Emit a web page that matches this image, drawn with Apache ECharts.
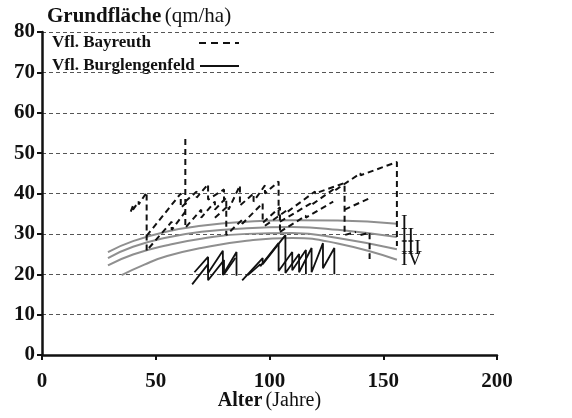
<!DOCTYPE html>
<html><head><meta charset="utf-8">
<script src="https://cdn.jsdelivr.net/npm/echarts@6/dist/echarts.min.js"></script>
<style>html,body{margin:0;padding:0;background:#fff}#c{width:572px;height:418px}</style>
</head><body><div id="c"></div>
<script>
// ---- axis ticks ----
const xTicks = [0, 50, 100, 150, 200];
const yTicks = [0, 10, 20, 30, 40, 50, 60, 70, 80];

// ---- yield-table site classes (age, basal area) ----
const classNames = ['I', 'II', 'III', 'IV'];
const classI   = [[29,25.5],[40,28.2],[55,30.6],[70,32.0],[90,33.0],[110,33.4],[130,33.3],[156,32.5]];
const classII  = [[29,24.0],[40,26.8],[55,29.1],[70,30.5],[90,31.4],[110,31.7],[130,31.0],[156,29.2]];
const classIII = [[29,22.2],[40,24.9],[55,27.2],[70,28.8],[90,30.0],[110,30.2],[130,29.0],[156,26.2]];
const classIV  = [[35,19.8],[45,22.4],[55,24.5],[70,26.5],[90,28.3],[110,29.0],[130,27.6],[156,23.6]];

// ---- Vfl. Bayreuth (dashed) ----
const bay1  = [[39,35.5],[40,37],[40,36],[42.5,38],[42.5,37.3],[46,40.3],[46,25]];
const bay2  = [[46,29.5],[61,40],[61,36.5],[64,38]];
const bay3  = [[47,26.5],[57,33],[57,31],[63,35.5]];
const bay4  = [[63,53.5],[63,31.5],[70,36],[70,34],[76,38],[76,36],[81,39],[81,29.7],[88,33.5],[88,32.5],[97,37.6],[97,32.7],[104.6,36.6],[104.6,30]];
const bay5  = [[63,38],[68,40.5],[68,39],[73,42.3],[73,38.5],[80,41],[80,38]];
const bay6  = [[76,34],[82,37],[82,36],[87,42],[87,37],[93,40],[93,38],[98,42],[98,40],[104,43],[104,33.5]];
const bay7  = [[104.6,33],[118,37.5],[118,37],[128,41],[128,40.5],[140,45],[140,44.5],[156,47.8],[156,27]];
const bay8  = [[98,32],[108,36],[108,35.5],[120,40.5],[120,40],[133,42.6],[133,29.7],[138,30.5]];
const bay9  = [[133,36],[145,39.1]];
const bay10 = [[140,29.7],[144,30.3],[144,23.8]];
const bay11 = [[104.6,30.5],[116,34.5],[116,34],[128,38]];
const bayreuth = [bay1, bay2, bay3, bay4, bay5, bay6, bay7, bay8, bay9, bay10, bay11];

// ---- Vfl. Burglengenfeld (solid) ----
const bg1 = [[66,17.5],[73,22.5],[73,20.3],[79.5,25.8],[79.5,19.8],[85.5,25.5],[85.5,19.6]];
const bg2 = [[67,20.5],[73,24.3],[73,18.5],[80,23.5],[80,20],[85,24]];
const bg3 = [[88,18.5],[97,24],[97,22.5],[107,29.7],[107,20.3],[113,25],[113,20.5],[118.5,26.5],[118.5,20.5],[123.5,27.7],[123.5,21.5],[128.5,26.5],[128.5,20]];
const bg4 = [[90.5,19.8],[96,22.5],[96,22],[104,27.7],[104,20.8],[110,25.5],[110,21],[116,26],[116,20]];
const burglengenfeld = [bg1, bg2, bg3, bg4];

const serif = 'Liberation Serif';
const series = [];
[classI, classII, classIII, classIV].forEach((d, i) => {
  series.push({
    name: classNames[i], type: 'line', data: d, smooth: true, symbol: 'none', z: 2,
    lineStyle: { color: '#8f8f8f', width: 2 },
    endLabel: { show: true, formatter: classNames[i], fontFamily: serif, fontSize: 20, color: '#111', distance: 4 }
  });
});
bayreuth.forEach(d => series.push({
  type: 'line', data: d, symbol: 'none', z: 3,
  lineStyle: { color: '#111', width: 2, type: [6, 4] }
}));
burglengenfeld.forEach(d => series.push({
  type: 'line', data: d, symbol: 'none', z: 3,
  lineStyle: { color: '#111', width: 1.8 }
}));

const chart = echarts.init(document.getElementById('c'), null, { renderer: 'canvas' });
chart.setOption({
  animation: false,
  backgroundColor: '#fff',
  grid: { left: 42, right: 75, top: 32, bottom: 63, containLabel: false, outerBoundsMode: 'none' },
  xAxis: {
    type: 'value', min: xTicks[0], max: xTicks[xTicks.length - 1], interval: 50,
    name: '{b|Alter} {n|(Jahre)}', nameLocation: 'middle', nameGap: 36, nameMoveOverlap: false,
    nameTextStyle: { rich: { b: { fontFamily: serif, fontWeight: 'bold', fontSize: 20, color: '#111' }, n: { fontFamily: serif, fontSize: 20, color: '#111' } } },
    axisLine: { lineStyle: { color: '#111', width: 2.5 } },
    axisTick: { show: true, length: 5, lineStyle: { color: '#111', width: 2 } },
    axisLabel: { fontFamily: serif, fontWeight: 'bold', fontSize: 21, color: '#111', margin: 16 },
    splitLine: { show: false }
  },
  yAxis: {
    type: 'value', min: yTicks[0], max: yTicks[yTicks.length - 1], interval: 10,
    name: '{b|Grundfläche} {n|(qm/ha)}', nameLocation: 'end', nameGap: 5, nameMoveOverlap: false,
    nameTextStyle: { align: 'left', padding: [0, 0, 0, 5], rich: { b: { fontFamily: serif, fontWeight: 'bold', fontSize: 21, color: '#111' }, n: { fontFamily: serif, fontSize: 21, color: '#111' } } },
    axisLine: { show: true, lineStyle: { color: '#111', width: 2.5 } },
    axisTick: { show: true, length: 5, lineStyle: { color: '#111', width: 2 } },
    axisLabel: { fontFamily: serif, fontWeight: 'bold', fontSize: 21, color: '#111', margin: 7 },
    splitLine: { show: true, lineStyle: { color: '#555', width: 1, type: [4, 3] } }
  },
  graphic: [
    { type: 'text', left: 52, top: 34, style: { text: 'Vfl. Bayreuth', font: 'bold 17px "Liberation Serif"', fill: '#111' } },
    { type: 'line', shape: { x1: 199, y1: 43, x2: 239, y2: 43 }, style: { stroke: '#111', lineWidth: 2, lineDash: [7, 5] } },
    { type: 'text', left: 52, top: 57, style: { text: 'Vfl. Burglengenfeld', font: 'bold 17px "Liberation Serif"', fill: '#111' } },
    { type: 'line', shape: { x1: 200, y1: 66, x2: 239, y2: 66 }, style: { stroke: '#111', lineWidth: 2 } }
  ],
  series: series
});
</script></body></html>
